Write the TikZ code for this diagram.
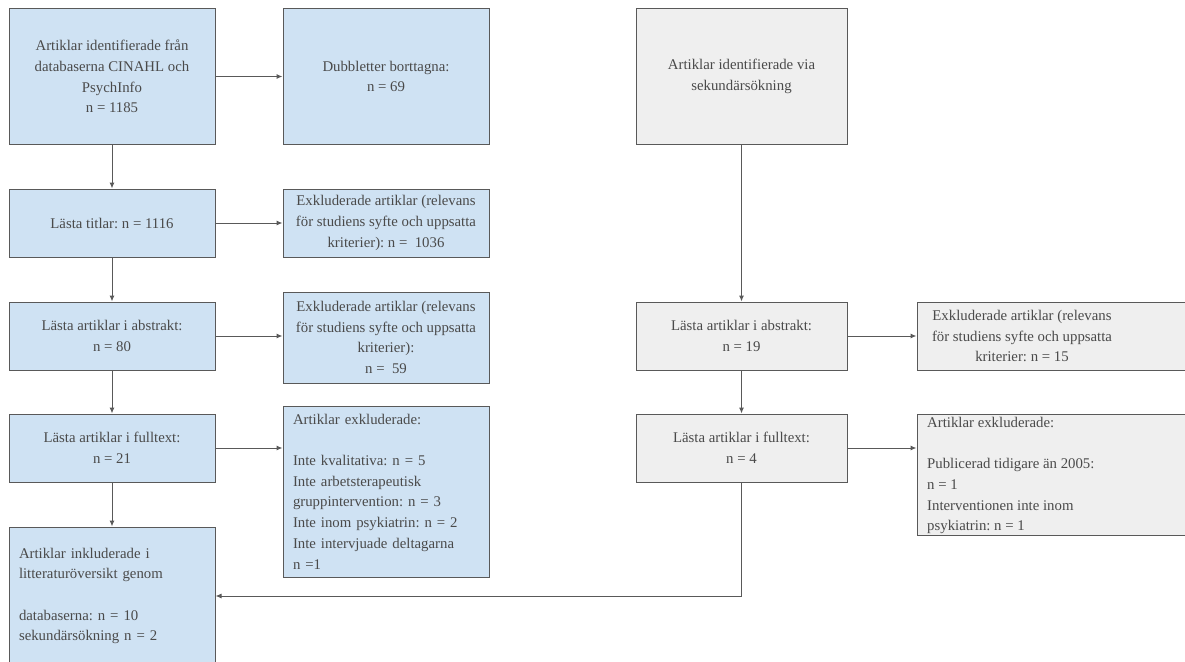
\documentclass[tikz,border=0pt]{standalone}
\usepackage{fontspec}
\setmainfont{Liberation Serif}
\usetikzlibrary{arrows.meta}
\definecolor{boxblue}{HTML}{CFE2F3}
\definecolor{boxgray}{HTML}{EFEFEF}
\definecolor{linegray}{HTML}{595959}
\definecolor{txtgray}{HTML}{4A4A4A}
\frenchspacing
\begin{document}
\begin{tikzpicture}[x=1pt,y=-1pt,
  box/.style={draw=linegray, line width=1pt, rectangle, inner sep=0pt,
    text=txtgray, font=\fontsize{14.8pt}{20.7pt}\selectfont, align=center},
  bluebox/.style={box, fill=boxblue},
  graybox/.style={box, fill=boxgray},
  txt/.style={text=txtgray, font=\fontsize{14.8pt}{20.7pt}\selectfont, inner sep=0pt},
  arr/.style={draw=linegray, line width=1pt, -{Latex[length=6pt,width=5pt]}}]
\useasboundingbox (0,0) rectangle (1185,661);
\clip (0,0) rectangle (1185,661);

% left column
\node[bluebox, minimum width=206pt, minimum height=135pt] (A) at (112,76.5)
  {Artiklar identifierade från\\databaserna CINAHL och\\PsychInfo\\n = 1185};
\node[bluebox, minimum width=206pt, minimum height=68pt] (C) at (112,223)
  {Lästa titlar: n = 1116};
\node[bluebox, minimum width=206pt, minimum height=68pt] (E) at (112,336)
  {Lästa artiklar i abstrakt:\\n = 80};
\node[bluebox, minimum width=206pt, minimum height=68pt] (G) at (112,448)
  {Lästa artiklar i fulltext:\\n = 21};
\node[bluebox, minimum width=206pt, minimum height=138pt, text width=186pt, align=left] (I) at (112,596)
  {Artiklar inkluderade i\\litteraturöversikt genom\\[20.7pt]databaserna: n = 10\\sekundärsökning n = 2};

% second column
\node[bluebox, minimum width=206pt, minimum height=135pt] (B) at (386,76.5)
  {Dubbletter borttagna:\\n = 69};
\node[bluebox, minimum width=206pt, minimum height=68pt] (D) at (386,223)
  {Exkluderade artiklar (relevans\\för studiens syfte och uppsatta\\kriterier): n = \ 1036};
\node[bluebox, minimum width=206pt, minimum height=91pt] (F) at (386,337.5)
  {Exkluderade artiklar (relevans\\för studiens syfte och uppsatta\\kriterier):\\n = \ 59};
\node[bluebox, minimum width=206pt, minimum height=171pt, text width=186pt, align=left] (H) at (386,491.5)
  {Artiklar exkluderade:\\[20.7pt]Inte kvalitativa: n = 5\\Inte arbetsterapeutisk\\gruppintervention: n = 3\\Inte inom psykiatrin: n = 2\\Inte intervjuade deltagarna\\n =1};

% right part
\node[graybox, minimum width=211pt, minimum height=135pt] (J) at (741.5,76.5)
  {Artiklar identifierade via\\sekundärsökning};
\node[graybox, minimum width=211pt, minimum height=68pt] (K) at (741.5,336)
  {Lästa artiklar i abstrakt:\\n = 19};
\node[graybox, minimum width=211pt, minimum height=68pt] (M) at (741.5,448)
  {Lästa artiklar i fulltext:\\n = 4};
\node[graybox, minimum width=283pt, minimum height=68pt] (L) at (1058.5,336) {};
\node[txt, align=center] (Lt) at (1022,336)
  {Exkluderade artiklar (relevans\\för studiens syfte och uppsatta\\kriterier: n = 15};
\node[graybox, minimum width=283pt, minimum height=121pt] (N) at (1058.5,474.5) {};
\node[txt, align=left, anchor=west] (Nt) at (927,475.5)
  {Artiklar exkluderade:\\[20.7pt]Publicerad tidigare än 2005:\\n = 1\\Interventionen inte inom\\psykiatrin: n = 1};

% connectors
\draw[arr] (A.east) -- (B.west);
\draw[arr] (C.east) -- (D.west);
\draw[arr] (E.east) -- (E.east -| F.west);
\draw[arr] (G.east) -- (G.east -| H.west);
\draw[arr] (A.south) -- (C.north);
\draw[arr] (C.south) -- (E.north);
\draw[arr] (E.south) -- (G.north);
\draw[arr] (G.south) -- (I.north);
\draw[arr] (J.south) -- (K.north);
\draw[arr] (K.south) -- (M.north);
\draw[arr] (K.east) -- (K.east -| L.west);
\draw[arr] (M.east) -- (M.east -| N.west);
\draw[arr] (M.south) |- (I.east);
\end{tikzpicture}
\end{document}
